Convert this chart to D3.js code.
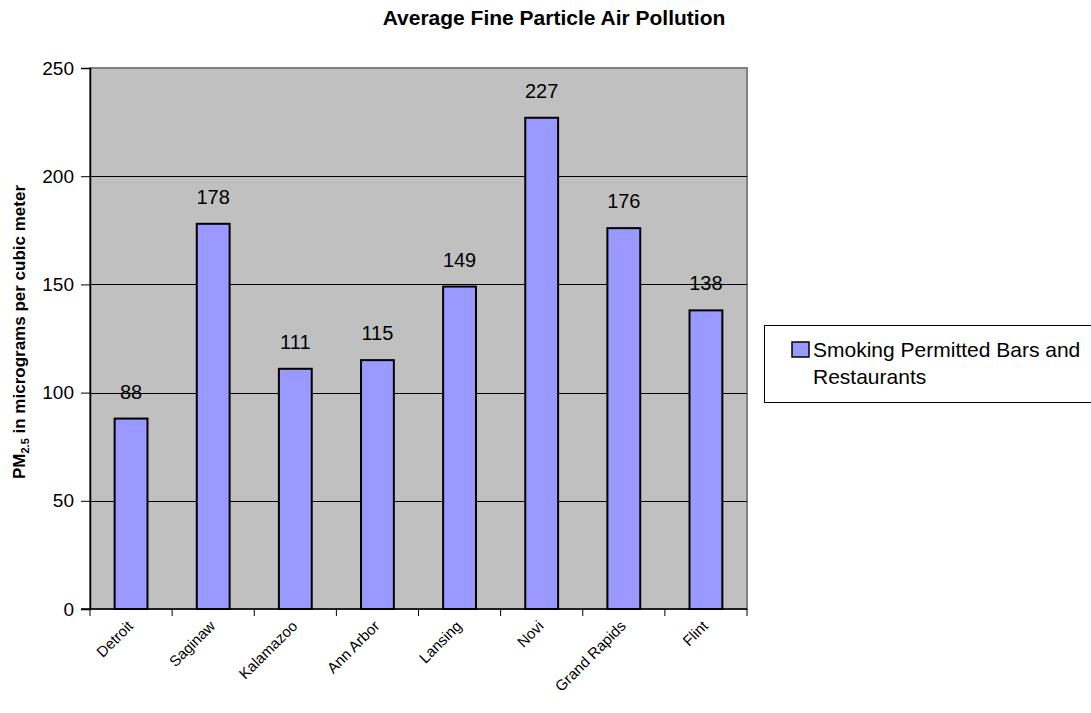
<!DOCTYPE html>
<html>
<head>
<meta charset="utf-8">
<script src="https://cdn.jsdelivr.net/npm/d3@7"></script>
<style>
  body { margin: 0; background: #fff; }
  svg { display: block; font-family: "Liberation Sans", Arial, sans-serif; }
</style>
</head>
<body>
<svg id="chart" width="1091" height="713"></svg>
<script>
// City averages of PM2.5 measured in smoking-permitted venues
const cities = ["Detroit", "Saginaw", "Kalamazoo", "Ann Arbor", "Lansing", "Novi", "Grand Rapids", "Flint"];
const pm25 = [88, 178, 111, 115, 149, 227, 176, 138];
const yTicks = [0, 50, 100, 150, 200, 250];
const seriesName = ["Smoking Permitted Bars and", "Restaurants"];

const svg = d3.select("#chart");
const plot = { left: 90, top: 68, right: 747, bottom: 609 };

const x = d3.scaleBand().domain(cities).range([plot.left, plot.right]).paddingInner(0.6).paddingOuter(0.3);
const xBand = d3.scaleBand().domain(cities).range([plot.left, plot.right]);
const y = d3.scaleLinear().domain([0, 250]).range([plot.bottom, plot.top]);

// plot area background
svg.append("rect")
  .attr("x", plot.left).attr("y", plot.top)
  .attr("width", plot.right - plot.left).attr("height", plot.bottom - plot.top)
  .attr("fill", "#c0c0c0").attr("stroke", "#808080").attr("stroke-width", 2);

// horizontal gridlines
svg.append("g").selectAll("line")
  .data(yTicks.filter(d => d > 0 && d < 250))
  .join("line")
  .attr("x1", plot.left).attr("x2", plot.right)
  .attr("y1", d => Math.round(y(d)) + 0.5).attr("y2", d => Math.round(y(d)) + 0.5)
  .attr("stroke", "#000").attr("stroke-width", 1);

// bars
svg.append("g").selectAll("rect")
  .data(pm25)
  .join("rect")
  .attr("x", (d, i) => x(cities[i]))
  .attr("y", d => y(d))
  .attr("width", x.bandwidth())
  .attr("height", d => y(0) - y(d))
  .attr("fill", "#9999ff")
  .attr("stroke", "#000")
  .attr("stroke-width", 2);

// value labels
svg.append("g").selectAll("text")
  .data(pm25)
  .join("text")
  .attr("x", (d, i) => x(cities[i]) + x.bandwidth() / 2)
  .attr("y", d => y(d) - 20)
  .attr("text-anchor", "middle")
  .attr("font-size", 20)
  .attr("fill", "#000")
  .text(d => d);

// y axis
const yAxis = svg.append("g")
  .attr("transform", `translate(${plot.left},0)`)
  .call(d3.axisLeft(y).tickValues(yTicks).tickSize(9).tickPadding(7));
yAxis.select(".domain").attr("stroke", "#000").attr("stroke-width", 1.5);
yAxis.selectAll(".tick line").attr("stroke", "#000");
yAxis.selectAll(".tick text")
  .attr("font-size", 19).attr("font-family", "Liberation Sans, Arial, sans-serif").attr("fill", "#000");

// x axis with ticks at category boundaries
const xAxis = svg.append("g").attr("transform", `translate(0,${plot.bottom})`);
xAxis.append("line")
  .attr("x1", plot.left - 9).attr("x2", plot.right)
  .attr("y1", 0).attr("y2", 0)
  .attr("stroke", "#000").attr("stroke-width", 1.5);
const boundaries = cities.map(c => xBand(c)).concat([plot.right]);
xAxis.selectAll("line.tk")
  .data(boundaries)
  .join("line")
  .attr("class", "tk")
  .attr("x1", d => d).attr("x2", d => d)
  .attr("y1", 0).attr("y2", 7)
  .attr("stroke", "#000");
xAxis.selectAll("text")
  .data(cities)
  .join("text")
  .attr("transform", d => `translate(${xBand(d) + xBand.bandwidth() / 2 + 3},${18}) rotate(-45)`)
  .attr("text-anchor", "end")
  .attr("font-size", 15)
  .attr("fill", "#000")
  .text(d => d);

// y axis title with subscript
const yTitle = svg.append("text")
  .attr("transform", `translate(25,${332}) rotate(-90)`)
  .attr("text-anchor", "middle")
  .attr("font-size", 17)
  .attr("font-weight", "bold")
  .attr("fill", "#000");
yTitle.append("tspan").text("PM");
yTitle.append("tspan").attr("font-size", 11).attr("dy", 4).text("2.5");
yTitle.append("tspan").attr("dy", -4).text(" in micrograms per cubic meter");

// chart title
svg.append("text")
  .attr("x", 554).attr("y", 25)
  .attr("text-anchor", "middle")
  .attr("font-size", 21)
  .attr("font-weight", "bold")
  .attr("fill", "#000")
  .text("Average Fine Particle Air Pollution");

// legend
const legend = svg.append("g");
legend.append("rect")
  .attr("x", 764.5).attr("y", 325.5)
  .attr("width", 340).attr("height", 77)
  .attr("fill", "#fff").attr("stroke", "#000").attr("stroke-width", 1);
legend.append("rect")
  .attr("x", 792).attr("y", 342)
  .attr("width", 17).attr("height", 15)
  .attr("fill", "#9999ff").attr("stroke", "#000").attr("stroke-width", 1.5);
legend.append("g").selectAll("text")
  .data(seriesName)
  .join("text")
  .attr("x", 813)
  .attr("y", (d, i) => 357 + i * 27)
  .attr("font-size", 21)
  .attr("fill", "#000")
  .text(d => d);
</script>
</body>
</html>
